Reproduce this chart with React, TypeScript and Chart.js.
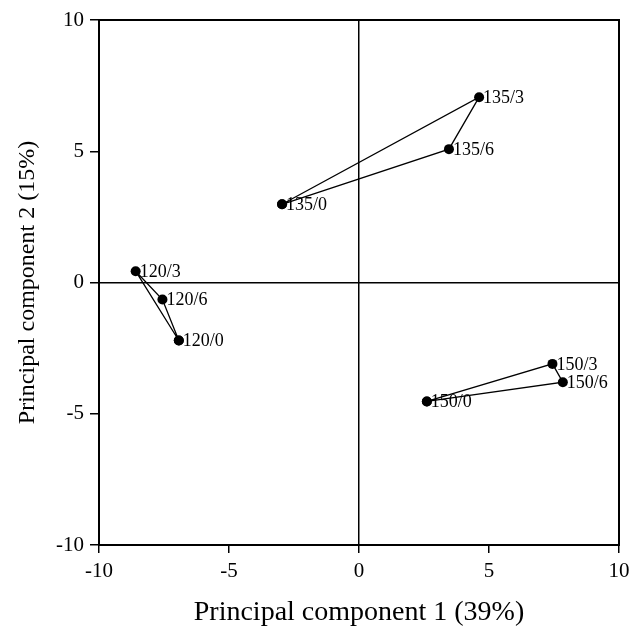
import React, { useEffect, useRef } from "react";
import { Chart, registerables } from "chart.js";

Chart.register(...registerables);

// Group 120
const labels120 = ["120/0", "120/3", "120/6"];
const pc1_120 = [-6.93, -8.59, -7.56];
const pc2_120 = [-2.21, 0.43, -0.65];
// Group 135
const labels135 = ["135/0", "135/3", "135/6"];
const pc1_135 = [-2.96, 4.62, 3.46];
const pc2_135 = [2.98, 7.06, 5.08];
// Group 150
const labels150 = ["150/0", "150/3", "150/6"];
const pc1_150 = [2.61, 7.44, 7.84];
const pc2_150 = [-4.53, -3.1, -3.8];

const tickValues = [-10, -5, 0, 5, 10];
const xTitle = "Principal component 1 (39%)";
const yTitle = "Principal component 2 (15%)";

const SERIF = "'Liberation Serif', 'Times New Roman', serif";

const groups = [
  { labels: labels120, x: pc1_120, y: pc2_120 },
  { labels: labels135, x: pc1_135, y: pc2_135 },
  { labels: labels150, x: pc1_150, y: pc2_150 },
];

const framePlugin = {
  id: "frameAndLabels",
  afterDatasetsDraw(chart: any) {
    const { ctx, chartArea, scales } = chart;
    ctx.save();
    ctx.strokeStyle = "#000";
    ctx.lineWidth = 2;
    ctx.strokeRect(chartArea.left, chartArea.top, chartArea.right - chartArea.left, chartArea.bottom - chartArea.top);
    ctx.fillStyle = "#000";
    ctx.font = `18px ${SERIF}`;
    ctx.textAlign = "left";
    ctx.textBaseline = "middle";
    groups.forEach((g) => {
      g.labels.forEach((lab, i) => {
        const px = scales.x.getPixelForValue(g.x[i]);
        const py = scales.y.getPixelForValue(g.y[i]);
        ctx.fillText(lab, px + 4, py + 1);
      });
    });
    ctx.restore();
  },
};

export default function App() {
  const ref = useRef<HTMLCanvasElement | null>(null);
  useEffect(() => {
    document.body.style.margin = "0";
    if (!ref.current) return;
    const datasets = groups.map((g) => {
      const pts = g.x.map((xv, i) => ({ x: xv, y: g.y[i] }));
      pts.push({ x: g.x[0], y: g.y[0] });
      return {
        data: pts,
        showLine: true,
        borderColor: "#000",
        borderWidth: 1.3,
        backgroundColor: "#000",
        pointBackgroundColor: "#000",
        pointBorderColor: "#000",
        pointRadius: 5,
        pointBorderWidth: 0,
        fill: false,
        tension: 0,
      };
    });
    const gridColor = (c: any) => (c.tick && c.tick.value === 0 ? "#000" : "rgba(0,0,0,0)");
    const chart = new Chart(ref.current, {
      type: "scatter",
      data: { datasets },
      plugins: [framePlugin],
      options: {
        animation: false,
        responsive: true,
        maintainAspectRatio: false,
        layout: { padding: { top: 20, right: 13, left: 0, bottom: 0 } },
        plugins: { legend: { display: false }, tooltip: { enabled: false } },
        scales: {
          x: {
            type: "linear",
            min: -10,
            max: 10,
            afterBuildTicks: (s: any) => {
              s.ticks = tickValues.map((v) => ({ value: v }));
            },
            afterFit: (s: any) => {
              s.height = 86;
              s.paddingLeft = 0;
              s.paddingRight = 0;
            },
            ticks: { color: "#000", font: { family: SERIF, size: 21 }, padding: 6 },
            grid: { color: gridColor, lineWidth: 1.5, tickColor: "#000", tickLength: 8, drawTicks: true },
            border: { display: true, color: "#000", width: 2 },
            title: { display: true, text: xTitle, color: "#000", font: { family: SERIF, size: 28 }, padding: { top: 2, bottom: 2 } },
          },
          y: {
            type: "linear",
            min: -10,
            max: 10,
            afterBuildTicks: (s: any) => {
              s.ticks = tickValues.map((v) => ({ value: v }));
            },
            afterFit: (s: any) => {
              s.width = 99;
              s.paddingTop = 0;
              s.paddingBottom = 0;
            },
            ticks: { color: "#000", font: { family: SERIF, size: 21 }, padding: 6 },
            grid: { color: gridColor, lineWidth: 1.5, tickColor: "#000", tickLength: 9, drawTicks: true },
            border: { display: true, color: "#000", width: 2 },
            title: { display: true, text: yTitle, color: "#000", font: { family: SERIF, size: 24 }, padding: { top: 13, bottom: 13 } },
          },
        },
      },
    } as any);
    return () => chart.destroy();
  }, []);
  return (
    <div style={{ width: 632, height: 631, position: "relative" }}>
      <canvas ref={ref} />
    </div>
  );
}
